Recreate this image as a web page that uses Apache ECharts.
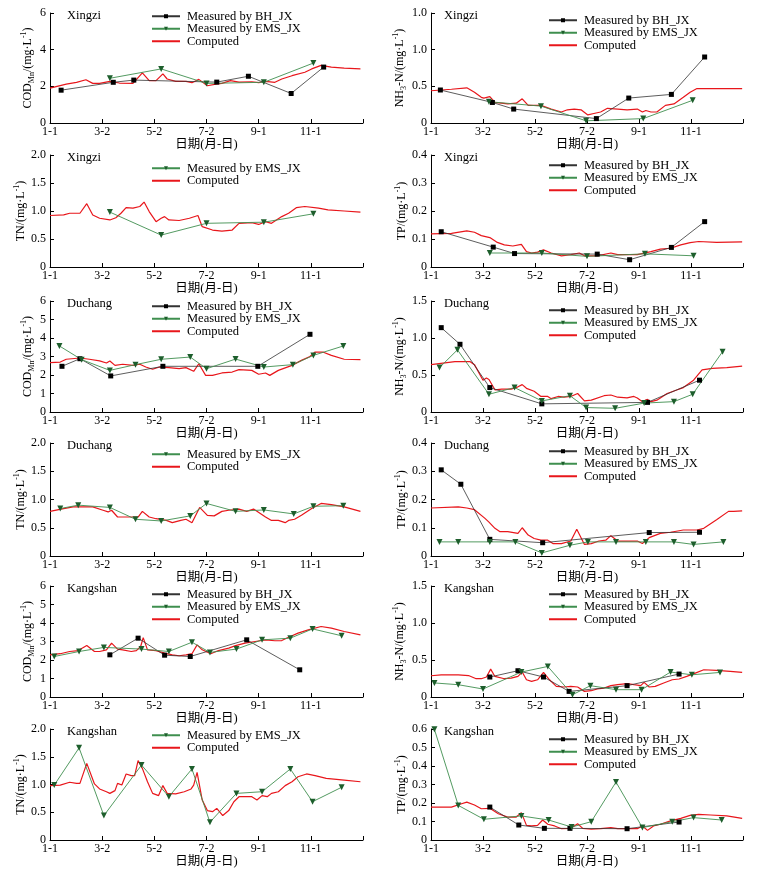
<!DOCTYPE html>
<html><head><meta charset="utf-8">
<script src="https://cdn.jsdelivr.net/npm/echarts@6/dist/echarts.min.js"></script>
<style>html,body{margin:0;padding:0;background:#fff}#c{width:770px;height:881px}</style>
</head><body><div id="c"></div>
<script>
// ---- x axis (day of year) ----
const tickDays = [0, 61, 122, 183, 244, 305, 366];
const tickLabels = ['1-1', '3-2', '5-2', '7-2', '9-1', '11-1', ''];

// ---- Xingzi ----
const xzCodBH = [[13,1.79],[74,2.22],[98,2.34],[195,2.23],[232,2.55],[282,1.61],[320,3.05]];
const xzCodEMS = [[70,2.44],[130,2.95],[183,2.16],[250,2.22],[308,3.27]];
const xzCodCmp = [[0,1.90],[19,2.12],[31,2.22],[42,2.36],[50,2.16],[58,2.16],[70,2.27],[81,2.18],[97,2.16],[108,2.73],[116,2.31],[124,2.31],[132,2.68],[137,2.40],[147,2.27],[159,2.27],[166,2.20],[174,2.38],[184,2.03],[194,2.12],[201,2.16],[211,2.31],[221,2.23],[236,2.25],[244,2.20],[252,2.27],[263,2.22],[271,2.40],[283,2.58],[298,2.77],[306,2.95],[317,3.14],[329,3.05],[344,2.99],[363,2.95]];

const xzNhBH = [[11,0.45],[72,0.28],[97,0.19],[194,0.06],[232,0.34],[282,0.39],[321,0.90]];
const xzNhEMS = [[68,0.29],[129,0.23],[182,0.03],[249,0.06],[307,0.31]];
const xzNhCmp = [[0,0.44],[24,0.46],[42,0.48],[51,0.42],[59,0.35],[62,0.34],[69,0.36],[75,0.28],[90,0.26],[100,0.27],[107,0.33],[114,0.24],[129,0.24],[141,0.19],[153,0.15],[160,0.18],[168,0.19],[176,0.18],[184,0.11],[191,0.13],[199,0.15],[207,0.20],[219,0.19],[230,0.18],[242,0.19],[248,0.15],[252,0.17],[258,0.15],[265,0.15],[275,0.24],[285,0.26],[296,0.35],[304,0.42],[312,0.47],[365,0.47]];

const xzTnEMS = [[70,0.98],[130,0.57],[183,0.78],[250,0.80],[308,0.95]];
const xzTnCmp = [[0,0.92],[16,0.93],[23,0.96],[35,0.96],[43,1.13],[50,0.93],[58,0.87],[70,0.84],[77,0.88],[83,0.96],[89,1.06],[97,1.05],[105,1.08],[110,1.16],[116,0.99],[124,0.81],[130,0.87],[134,0.90],[139,0.84],[151,0.83],[163,0.87],[173,0.92],[178,0.72],[190,0.66],[201,0.64],[213,0.66],[221,0.78],[236,0.79],[244,0.76],[252,0.81],[259,0.78],[271,0.90],[279,0.96],[288,1.06],[298,1.08],[314,1.05],[325,1.02],[344,1.00],[363,0.98]];

const xzTpBH = [[12,0.126],[73,0.071],[98,0.048],[195,0.046],[233,0.026],[282,0.070],[321,0.162]];
const xzTpEMS = [[69,0.05],[130,0.05],[183,0.038],[251,0.047],[308,0.04]];
const xzTpCmp = [[0,0.118],[24,0.12],[42,0.129],[51,0.124],[59,0.112],[69,0.105],[77,0.089],[86,0.079],[96,0.075],[106,0.081],[112,0.055],[118,0.05],[125,0.053],[132,0.061],[141,0.05],[153,0.04],[164,0.044],[174,0.05],[180,0.04],[195,0.04],[211,0.05],[219,0.044],[242,0.044],[258,0.055],[269,0.064],[281,0.067],[293,0.079],[304,0.087],[314,0.091],[335,0.088],[365,0.09]];

// ---- Duchang ----
const dcCodBH = [[14,2.47],[35,2.88],[71,1.95],[132,2.47],[243,2.47],[304,4.2]];
const dcCodEMS = [[11,3.57],[37,2.83],[70,2.25],[100,2.56],[130,2.85],[164,2.97],[183,2.34],[217,2.86],[250,2.43],[284,2.56],[308,3.06],[343,3.57]];
const dcCodCmp = [[0,2.67],[12,2.70],[19,2.85],[35,2.92],[46,2.85],[58,2.76],[66,2.65],[70,2.76],[76,2.52],[85,2.58],[97,2.52],[105,2.58],[112,2.43],[120,2.31],[128,2.43],[139,2.40],[151,2.34],[159,2.40],[168,2.20],[174,2.61],[182,1.98],[190,1.98],[201,2.11],[213,2.16],[221,2.29],[236,2.25],[244,2.04],[252,2.11],[257,1.98],[267,2.25],[283,2.52],[294,2.79],[304,3.00],[310,3.24],[319,3.24],[329,3.06],[344,2.85],[363,2.83]];

const dcNhBH = [[12,1.14],[34,0.915],[69,0.33],[130,0.11],[254,0.13],[315,0.43]];
const dcNhEMS = [[10,0.60],[31,0.84],[68,0.24],[98,0.33],[130,0.15],[163,0.22],[182,0.06],[216,0.05],[250,0.12],[285,0.14],[307,0.24],[342,0.815]];
const dcNhCmp = [[0,0.64],[14,0.66],[28,0.68],[46,0.68],[51,0.64],[61,0.43],[65,0.46],[68,0.44],[75,0.30],[83,0.31],[94,0.31],[102,0.34],[107,0.37],[112,0.32],[121,0.28],[129,0.21],[137,0.21],[141,0.18],[149,0.21],[156,0.20],[164,0.21],[172,0.25],[180,0.15],[188,0.16],[203,0.22],[211,0.23],[219,0.20],[230,0.19],[238,0.21],[242,0.19],[248,0.14],[254,0.17],[258,0.14],[265,0.16],[277,0.25],[289,0.30],[296,0.33],[308,0.43],[318,0.57],[330,0.59],[347,0.60],[365,0.62]];

const dcTnEMS = [[12,0.84],[33,0.90],[70,0.86],[100,0.65],[130,0.62],[164,0.71],[183,0.93],[217,0.79],[250,0.815],[285,0.745],[308,0.88],[343,0.89]];
const dcTnCmp = [[0,0.79],[16,0.84],[27,0.87],[50,0.87],[62,0.81],[68,0.78],[72,0.81],[79,0.69],[89,0.69],[103,0.69],[108,0.79],[116,0.69],[124,0.66],[136,0.63],[143,0.59],[153,0.63],[159,0.65],[166,0.59],[175,0.86],[184,0.72],[192,0.71],[201,0.79],[209,0.81],[221,0.83],[230,0.79],[238,0.83],[242,0.79],[252,0.69],[259,0.63],[267,0.63],[275,0.59],[279,0.63],[286,0.65],[294,0.72],[306,0.84],[317,0.93],[329,0.91],[344,0.87],[363,0.79]];

const dcTpBH = [[12,0.305],[35,0.254],[69,0.059],[131,0.047],[256,0.083],[315,0.084]];
const dcTpEMS = [[10,0.05],[32,0.05],[69,0.05],[99,0.05],[130,0.011],[163,0.038],[184,0.05],[217,0.05],[252,0.05],[285,0.05],[308,0.041],[343,0.05]];
const dcTpCmp = [[0,0.17],[32,0.174],[42,0.17],[51,0.164],[63,0.134],[68,0.12],[70,0.122],[75,0.098],[81,0.086],[90,0.086],[102,0.08],[107,0.10],[114,0.074],[121,0.062],[129,0.056],[137,0.056],[143,0.044],[153,0.044],[164,0.053],[171,0.095],[180,0.041],[188,0.044],[197,0.053],[205,0.056],[211,0.072],[219,0.053],[242,0.053],[248,0.044],[256,0.065],[269,0.08],[281,0.084],[296,0.092],[312,0.092],[320,0.098],[335,0.128],[349,0.158],[355,0.158],[365,0.16]];

// ---- Kangshan ----
const ksCodBH = [[70,2.28],[103,3.18],[134,2.26],[164,2.19],[230,3.09],[292,1.47]];
const ksCodEMS = [[5,2.19],[34,2.46],[63,2.68],[107,2.59],[139,2.46],[166,2.96],[187,2.41],[218,2.59],[248,3.09],[281,3.18],[307,3.68],[341,3.31]];
const ksCodCmp = [[0,2.28],[12,2.34],[23,2.46],[33,2.51],[43,2.78],[52,2.46],[58,2.46],[66,2.55],[72,2.91],[79,2.59],[85,2.55],[95,2.46],[101,2.51],[106,2.73],[109,3.21],[114,2.55],[124,2.51],[134,2.37],[143,2.28],[151,2.23],[159,2.28],[166,2.34],[172,2.82],[178,2.55],[188,2.34],[197,2.51],[209,2.64],[217,2.78],[228,2.91],[240,3.0],[252,3.09],[263,3.04],[271,3.05],[279,3.23],[290,3.45],[302,3.63],[317,3.81],[329,3.72],[344,3.54],[363,3.36]];

const ksNhBH = [[69,0.27],[102,0.355],[132,0.27],[162,0.076],[230,0.153],[291,0.31]];
const ksNhEMS = [[4,0.19],[32,0.166],[61,0.108],[106,0.337],[137,0.413],[166,0.031],[187,0.153],[217,0.099],[247,0.099],[281,0.337],[306,0.30],[339,0.332]];
const ksNhCmp = [[0,0.287],[12,0.30],[32,0.30],[44,0.29],[53,0.247],[59,0.247],[65,0.27],[70,0.377],[75,0.278],[86,0.247],[94,0.256],[102,0.278],[107,0.337],[112,0.233],[118,0.211],[125,0.233],[132,0.332],[139,0.233],[147,0.144],[156,0.135],[164,0.144],[172,0.135],[180,0.076],[188,0.085],[195,0.108],[203,0.121],[211,0.153],[219,0.166],[230,0.18],[238,0.166],[246,0.153],[250,0.198],[256,0.135],[263,0.144],[273,0.189],[283,0.233],[291,0.243],[300,0.278],[310,0.323],[320,0.368],[335,0.36],[351,0.346],[365,0.332]];

const ksTnEMS = [[5,0.99],[34,1.66],[63,0.44],[107,1.35],[139,0.78],[166,1.28],[187,0.32],[218,0.84],[248,0.87],[281,1.28],[307,0.69],[341,0.95]];
const ksTnCmp = [[0,0.98],[12,0.99],[23,1.04],[31,1.02],[35,1.02],[43,1.38],[52,1.01],[58,0.92],[66,0.87],[70,0.84],[76,0.89],[79,1.02],[84,0.99],[89,1.19],[95,1.16],[99,1.16],[103,1.43],[108,1.29],[114,1.05],[120,0.84],[127,0.80],[132,0.98],[137,0.84],[147,0.83],[157,0.87],[165,0.92],[168,0.99],[172,1.22],[178,0.72],[184,0.53],[190,0.51],[195,0.57],[202,0.44],[209,0.53],[215,0.69],[221,0.78],[236,0.78],[242,0.72],[248,0.80],[254,0.78],[259,0.84],[267,0.87],[275,0.98],[283,1.05],[290,1.14],[300,1.19],[310,1.16],[323,1.11],[344,1.08],[363,1.05]];

const ksTpBH = [[69,0.178],[103,0.081],[133,0.063],[163,0.063],[230,0.061],[291,0.097]];
const ksTpEMS = [[4,0.598],[32,0.187],[62,0.112],[106,0.13],[138,0.108],[165,0.07],[188,0.099],[217,0.313],[248,0.067],[283,0.099],[308,0.121],[341,0.108]];
const ksTpCmp = [[0,0.178],[24,0.178],[34,0.193],[42,0.205],[51,0.189],[59,0.169],[69,0.171],[79,0.142],[90,0.124],[100,0.124],[106,0.148],[112,0.079],[118,0.076],[125,0.079],[131,0.108],[137,0.085],[145,0.076],[153,0.061],[164,0.063],[172,0.088],[178,0.063],[188,0.058],[199,0.061],[211,0.067],[219,0.061],[242,0.061],[248,0.076],[254,0.052],[261,0.076],[269,0.085],[281,0.103],[293,0.117],[304,0.133],[314,0.139],[328,0.135],[347,0.13],[365,0.117]];

// ---- names ----
const NAME_BH = 'Measured by BH_JX';
const NAME_EMS = 'Measured by EMS_JX';
const NAME_CMP = 'Computed';
const xName = '日期(月-日)';
const yNames = {
  cod: '{a|COD}{s|Mn}{a|/(mg·L}{p|-1}{a|)}',
  nh: '{a|NH}{s|3}{a|-N/(mg·L}{p|-1}{a|)}',
  tn: '{a|TN/(mg·L}{p|-1}{a|)}',
  tp: '{a|TP/(mg·L}{p|-1}{a|)}'
};

// ---- layout ----
const FONT = "'Liberation Serif','Times New Roman','Noto Sans CJK SC',serif";
const rows = [[13,110],[155,112],[301,111],[443,113],[586,111],[729,111]];
const cols = [[50,313],[431,312]];
const legendCenters = [16,20,168,165,306,310,454,451,594,594,735,739];

const panels = [
  {r:0,c:0,site:'Xingzi',y:'cod',max:6,iv:2,dec:0,bh:xzCodBH,ems:xzCodEMS,cmp:xzCodCmp,gap:10},
  {r:0,c:1,site:'Xingzi',y:'nh',max:1.5,iv:0.5,dec:1,bh:xzNhBH,ems:xzNhEMS,cmp:xzNhCmp,gap:16,topLabel:'1.0'},
  {r:1,c:0,site:'Xingzi',y:'tn',max:2,iv:0.5,dec:1,bh:null,ems:xzTnEMS,cmp:xzTnCmp,gap:12},
  {r:1,c:1,site:'Xingzi',y:'tp',max:0.4,iv:0.1,dec:1,bh:xzTpBH,ems:xzTpEMS,cmp:xzTpCmp,gap:16},
  {r:2,c:0,site:'Duchang',y:'cod',max:6,iv:1,dec:0,bh:dcCodBH,ems:dcCodEMS,cmp:dcCodCmp,gap:10},
  {r:2,c:1,site:'Duchang',y:'nh',max:1.5,iv:0.5,dec:1,bh:dcNhBH,ems:dcNhEMS,cmp:dcNhCmp,gap:16},
  {r:3,c:0,site:'Duchang',y:'tn',max:2,iv:0.5,dec:1,bh:null,ems:dcTnEMS,cmp:dcTnCmp,gap:12},
  {r:3,c:1,site:'Duchang',y:'tp',max:0.4,iv:0.1,dec:1,bh:dcTpBH,ems:dcTpEMS,cmp:dcTpCmp,gap:16},
  {r:4,c:0,site:'Kangshan',y:'cod',max:6,iv:1,dec:0,bh:ksCodBH,ems:ksCodEMS,cmp:ksCodCmp,gap:10},
  {r:4,c:1,site:'Kangshan',y:'nh',max:1.5,iv:0.5,dec:1,bh:ksNhBH,ems:ksNhEMS,cmp:ksNhCmp,gap:16},
  {r:5,c:0,site:'Kangshan',y:'tn',max:2,iv:0.5,dec:1,bh:null,ems:ksTnEMS,cmp:ksTnCmp,gap:12},
  {r:5,c:1,site:'Kangshan',y:'tp',max:0.6,iv:0.1,dec:1,bh:ksTpBH,ems:ksTpEMS,cmp:ksTpCmp,gap:16}
];

const grids = [], xAxes = [], yAxes = [], series = [], legends = [], titles = [];
const axisLineStyle = {color:'#000', width:1};
panels.forEach((p, i) => {
  const [top, h] = rows[p.r];
  const [left, w] = cols[p.c];
  grids.push({left, top, width:w, height:h, containLabel:false});
  xAxes.push({
    type:'value', gridIndex:i, min:0, max:366, interval:61,
    name:xName, nameLocation:'middle', nameGap:15,
    nameTextStyle:{fontFamily:FONT, fontSize:12.5, color:'#000'},
    axisLine:{show:true, lineStyle:axisLineStyle},
    axisTick:{show:true, inside:true, length:4, lineStyle:axisLineStyle},
    axisLabel:{fontFamily:FONT, fontSize:12, color:'#000', margin:3,
      formatter:v => { const k = tickDays.indexOf(v); return k >= 0 ? tickLabels[k] : ''; }},
    splitLine:{show:false}
  });
  yAxes.push({
    type:'value', gridIndex:i, min:0, max:p.max, interval:p.iv,
    name:yNames[p.y], nameLocation:'middle', nameRotate:90, nameGap:p.gap,
    nameTextStyle:{fontFamily:FONT, color:'#000', rich:{
      a:{fontFamily:FONT, fontSize:12, color:'#000', lineHeight:16, verticalAlign:'middle'},
      s:{fontFamily:FONT, fontSize:8, color:'#000', lineHeight:16, verticalAlign:'bottom', padding:[6,0,0,0]},
      p:{fontFamily:FONT, fontSize:8, color:'#000', lineHeight:16, verticalAlign:'top', padding:[0,0,6,0]}
    }},
    axisLine:{show:true, lineStyle:axisLineStyle},
    axisTick:{show:true, inside:true, length:4, lineStyle:axisLineStyle},
    axisLabel:{fontFamily:FONT, fontSize:12, color:'#000', margin:4,
      formatter:v => {
        if (Math.abs(v) < 1e-9) return '0';
        if (p.topLabel && Math.abs(v - p.max) < 1e-9) return p.topLabel;
        return v.toFixed(p.dec);
      }},
    splitLine:{show:false}
  });
  const names = [];
  if (p.bh) {
    names.push({name:NAME_BH});
    series.push({name:NAME_BH, type:'line', xAxisIndex:i, yAxisIndex:i, data:p.bh,
      symbol:'rect', symbolSize:5, showAllSymbol:true,
      lineStyle:{color:'#333', width:0.8}, itemStyle:{color:'#000'}, z:3, animation:false});
  }
  names.push({name:NAME_EMS});
  series.push({name:NAME_EMS, type:'line', xAxisIndex:i, yAxisIndex:i, data:p.ems,
    symbol:'triangle', symbolRotate:180, symbolSize:6, showAllSymbol:true,
    lineStyle:{color:'#3f8f4f', width:0.9}, itemStyle:{color:'#1d5e2c'}, z:3, animation:false});
  names.push({name:NAME_CMP, itemStyle:{opacity:0}});
  series.push({name:NAME_CMP, type:'line', xAxisIndex:i, yAxisIndex:i, data:p.cmp,
    symbol:'none', lineStyle:{color:'#e8161b', width:1.2}, itemStyle:{color:'#e8161b'}, z:2, animation:false});
  legends.push({
    data:names, orient:'vertical',
    left: p.c === 0 ? 151 : 548,
    top: legendCenters[i] - 6,
    itemWidth:28, itemHeight:5, itemGap:0, padding:0,
    selectedMode:false,
    textStyle:{fontFamily:FONT, fontSize:12.5, color:'#000', lineHeight:12, padding:[0,0,0,2]}
  });
  titles.push({text:p.site, left: p.c === 0 ? 67 : 444, top: top - 4,
    textStyle:{fontFamily:FONT, fontSize:12.5, fontWeight:'normal', color:'#000'}, padding:0});
});

const chart = echarts.init(document.getElementById('c'), null, {renderer:'canvas'});
chart.setOption({
  backgroundColor:'#fff',
  animation:false,
  title:titles, grid:grids, xAxis:xAxes, yAxis:yAxes, legend:legends, series:series
});
</script>
</body></html>
